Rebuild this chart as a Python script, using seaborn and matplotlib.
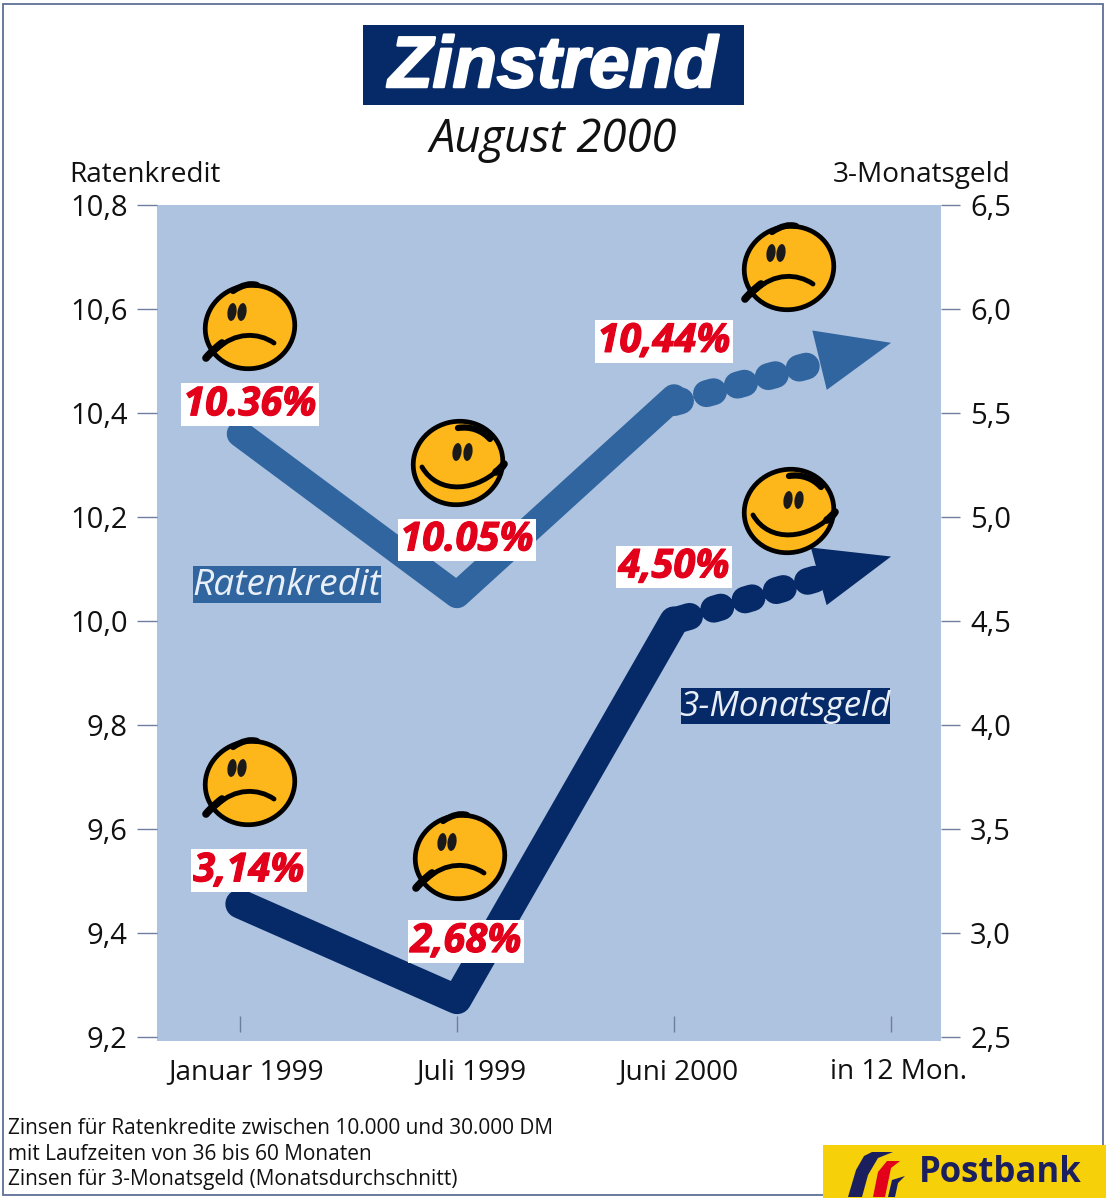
import matplotlib
matplotlib.use("Agg")
import matplotlib.pyplot as plt
import matplotlib.patheffects as pe
import pandas as pd
import seaborn as sns
from matplotlib.patches import Ellipse, PathPatch, Polygon, Rectangle
from matplotlib.path import Path
from matplotlib.transforms import ScaledTranslation

months = ["Januar 1999", "Juli 1999", "Juni 2000", "in 12 Mon."]
rk_values = [10.36, 10.05, 10.43]
rk_forecast = [10.42, 10.535]
rk_labels = ["10.36%", "10.05%", "10,44%"]
geld_values = [3.14, 2.68, 4.50]
geld_forecast = [4.50, 4.81]
geld_labels = ["3,14%", "2,68%", "4,50%"]
left_ticks = [9.2, 9.4, 9.6, 9.8, 10.0, 10.2, 10.4, 10.6, 10.8]
left_ticklabels = ["9,2", "9,4", "9,6", "9,8", "10,0", "10,2", "10,4", "10,6", "10,8"]
right_ticks = [2.5, 3.0, 3.5, 4.0, 4.5, 5.0, 5.5, 6.0, 6.5]
right_ticklabels = ["2,5", "3,0", "3,5", "4,0", "4,5", "5,0", "5,5", "6,0", "6,5"]
footnotes = ["Zinsen für Ratenkredite zwischen 10.000 und 30.000 DM",
             "mit Laufzeiten von 36 bis 60 Monaten",
             "Zinsen für 3-Monatsgeld (Monatsdurchschnitt)"]

BLUE = "#31659f"
NAVY = "#062a68"
BG = "#aec3e0"
TICK = "#6c7f9c"
RED = "#e2001a"
YELLOW = "#fdb71a"

sns.set_theme(style="white")
plt.rcParams["font.family"] = ["Open Sans", "DejaVu Sans"]
plt.rcParams["text.color"] = "#111111"

fig = plt.figure(figsize=(11.06, 12), dpi=100, facecolor="white")
ax = fig.add_axes([157 / 1106, 1 - 1041 / 1200, 784 / 1106, 836 / 1200], facecolor=BG)
ax2 = ax.twinx()


def draw_series(axis, values, forecast, color, width, dot_width, blobs):
    solid = pd.DataFrame({"pos": range(len(values)), "value": values})
    sns.lineplot(data=solid, x="pos", y="value", ax=axis, color=color, linewidth=width,
                 solid_capstyle="round", solid_joinstyle="round", estimator=None, sort=False)
    # la prevision: quelques blobs puis un grand trou, la fleche couvre la fin
    dots = pd.DataFrame({"pos": [2, 3], "value": forecast})
    sns.lineplot(data=dots, x="pos", y="value", ax=axis, color=color, linewidth=dot_width,
                 linestyle=(0, blobs), dash_capstyle="round", estimator=None, sort=False)


draw_series(ax, rk_values, rk_forecast, BLUE, 19, 19.4, (0.25, 1.0, 0.27, 0.92, 0.27, 0.92, 0.27, 0.92, 0.27, 60))
draw_series(ax2, geld_values, geld_forecast, NAVY, 21, 19.4, (0.6, 0.94, 0.27, 0.94, 0.27, 0.94, 0.27, 0.94, 0.27, 60))

ax.set_xlim(-0.382, 3.23)
# le fond depasse un peu sous la graduation du bas
ax.set_ylim(9.1923, 10.8)
ax2.set_ylim(2.4808, 6.5)
ax.set_xlabel("")
ax.set_ylabel("")
ax2.set_ylabel("")
for a in [ax, ax2]:
    for s in a.spines.values():
        s.set_visible(False)
ax.set_yticks(left_ticks, left_ticklabels)
ax2.set_yticks(right_ticks, right_ticklabels)
ax.tick_params(axis="y", left=True, length=14.5, width=1, color=TICK, pad=6.5, labelsize=21, labelcolor="#111111")
ax2.tick_params(axis="y", right=True, length=14, width=1, color=TICK, pad=7, labelsize=21, labelcolor="#111111")
ax.set_xticks(range(4), months)
ax.tick_params(axis="x", length=0, pad=12.5, labelsize=20.2, labelcolor="#111111")
label_shift = [6, 14, 4, 7]
for lab, dx in zip(ax.get_xticklabels(), label_shift):
    lab.set_transform(lab.get_transform() + ScaledTranslation(dx / 100, 0, fig.dpi_scale_trans))
ax.vlines(range(4), 0.011, 0.03, color=TICK, lw=1, transform=ax.get_xaxis_transform())

# les fleches
ax.annotate("", xy=(3, rk_forecast[1]), xytext=(-74, -18), textcoords="offset pixels",
            arrowprops=dict(arrowstyle="-|>,head_length=5.3,head_width=2.2", mutation_scale=10,
                            fc=BLUE, ec=BLUE, lw=0, shrinkA=0, shrinkB=0))
ax2.annotate("", xy=(3, geld_forecast[1]), xytext=(-73, -20), textcoords="offset pixels",
             arrowprops=dict(arrowstyle="-|>,head_length=5.4,head_width=2.15", mutation_scale=10,
                             fc=NAVY, ec=NAVY, lw=0, shrinkA=0, shrinkB=0))

# etiquettes rouges
thick = [pe.withStroke(linewidth=0.8, foreground=RED)]
label_font = dict(color=RED, fontsize=28.7, fontweight="bold", style="italic", ha="center", va="center",
                  textcoords="offset pixels", zorder=6, path_effects=thick,
                  bbox=dict(boxstyle="square,pad=0.05", fc="white", ec="none"))
rk_offsets = [(10, 29), (10, 55), (-10, 56)]
geld_offsets = [(9, 33), (9, 58), (0, 54)]
for i, (txt, off) in enumerate(zip(rk_labels, rk_offsets)):
    ax.annotate(txt, xy=(i, rk_values[i]), xytext=off, **label_font)
for i, (txt, off) in enumerate(zip(geld_labels, geld_offsets)):
    ax2.annotate(txt, xy=(i, geld_values[i]), xytext=off, **label_font)

# couche du dessus, en pixels de l'image
top = fig.add_axes([0, 0, 1, 1], facecolor="none", zorder=10)
top.set_xlim(0, 1106)
top.set_ylim(1200, 0)
top.axis("off")

top.add_patch(Rectangle((3, 4), 1100, 1191, fc="none", ec="#5d6f96", lw=1.3))
top.add_patch(Rectangle((363, 25), 381, 80, fc=NAVY, ec="none"))
top.text(553, 68, "Zinstrend", color="white", fontsize=52, fontweight="bold", style="italic",
         family=["Liberation Sans"], ha="center", va="center",
         path_effects=[pe.withStroke(linewidth=1.8, foreground="white")])
top.text(553, 140, "August 2000", color="#111111", fontsize=32.7, style="italic", ha="center", va="center")
top.text(69, 175, "Ratenkredit", fontsize=20.2, va="center")
top.text(1010, 175, "3-Monatsgeld", fontsize=20.2, va="center", ha="right")

top.add_patch(Rectangle((193, 566), 188, 37, fc=BLUE, ec="none"))
top.text(287, 586, "Ratenkredit", color="#e9eff7", fontsize=26.7, style="italic", ha="center", va="center")
top.add_patch(Rectangle((681, 688), 209, 36, fc=NAVY, ec="none"))
top.text(785, 707, "3-Monatsgeld", color="#e9eff7", fontsize=25.3, style="italic", ha="center", va="center")

for y, line in zip([1129, 1155, 1180], footnotes):
    top.text(8, y, line, fontsize=15, va="center")


def face(cx, cy, happy=False):
    top.add_patch(Ellipse((cx, cy), 90, 83, fc=YELLOW, ec="black", lw=3.4, angle=-15))
    codes = [Path.MOVETO, Path.CURVE4, Path.CURVE4, Path.CURVE4]
    if happy:
        eyes = [-1, 10]
        eye_y = cy - 11
        mouth = [(cx - 36, cy + 4), (cx - 20, cy + 32), (cx + 20, cy + 30), (cx + 46, cy + 1)]
        hair = [(cx + 0, cy - 35), (cx + 12, cy - 37), (cx + 24, cy - 33), (cx + 32, cy - 24)]
        tail = [(cx + 38, cy + 9), (cx + 41, cy + 7), (cx + 44, cy + 4), (cx + 46, cy + 1)]
    else:
        eyes = [-18, -8]
        eye_y = cy - 15
        mouth = [(cx - 33, cy + 22), (cx - 15, cy + 5), (cx + 8, cy + 5), (cx + 24, cy + 16)]
        hair = [(cx - 17, cy - 36), (cx - 8, cy - 42), (cx + 0, cy - 44), (cx + 7, cy - 42)]
        tail = [(cx - 44, cy + 31), (cx - 38, cy + 24), (cx - 33, cy + 20), (cx - 28, cy + 16)]
    for ex in eyes:
        top.add_patch(Ellipse((cx + ex, eye_y), 9, 18, fc="#1a1a1a", ec="none", angle=8))
    top.add_patch(PathPatch(Path(mouth, codes), fc="none", ec="black", lw=3.5, capstyle="round"))
    top.add_patch(PathPatch(Path(tail, codes), fc="none", ec="black", lw=5.5, capstyle="round"))
    top.add_patch(PathPatch(Path(hair, codes), fc="none", ec="black", lw=4.5, capstyle="round"))


for cx, cy, happy in [(250, 327, False), (458, 463, True), (789, 268, False),
                      (250, 783, False), (460, 857, False), (789, 511, True)]:
    face(cx, cy, happy)

# logo
top.add_patch(Rectangle((823, 1145), 283, 53, fc="#f6d10a", ec="none"))
top.add_patch(Polygon([(848, 1197), (856, 1170), (864, 1156), (872, 1152), (893, 1152),
                       (878, 1158), (868, 1175), (862, 1197)], fc="#1c1f5e", ec="none"))
top.add_patch(Polygon([(873, 1197), (878, 1172), (887, 1161), (900, 1161), (891, 1168),
                       (885, 1197)], fc="#e2001a", ec="none"))
top.add_patch(Polygon([(888, 1197), (892, 1180), (905, 1176), (898, 1183), (895, 1197)],
                      fc="#1c1f5e", ec="none"))
top.text(1000, 1173, "Postbank", color="#1c1f5e", fontsize=25, fontweight="bold", ha="center", va="center")

fig.savefig("out.png", dpi=100)
